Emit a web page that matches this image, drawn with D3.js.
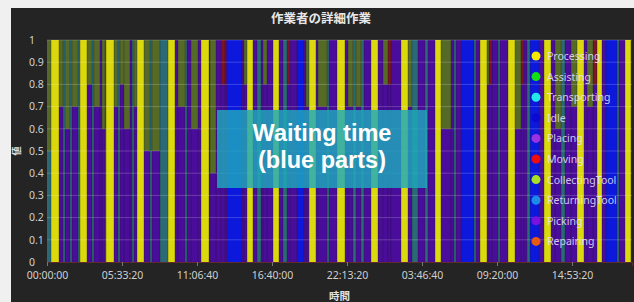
<!DOCTYPE html>
<html>
<head>
<meta charset="utf-8">
<script src="https://cdn.jsdelivr.net/npm/d3@7"></script>
<style>
  body { margin: 0; background: #f0f0f0; }
  svg { display: block; }
</style>
</head>
<body>
<svg width="634" height="302"></svg>
<script>
// legend order
const categories = ['Processing', 'Assisting', 'Transporting', 'Idle', 'Placing',
  'Moving', 'CollectingTool', 'ReturningTool', 'Picking', 'Repairing']

// short codes used in the segment arrays
const codes = { Y: 'Processing', B: 'Idle', P: 'Picking', T: 'ReturningTool', C: 'CollectingTool', R: 'Moving' }

const xTicks = [0, 20000, 40000, 60000, 80000, 100000, 120000, 140000]
const yTicks = [0, 0.1, 0.2, 0.3, 0.4, 0.5, 0.6, 0.7, 0.8, 0.9, 1]
const xMax = 156000

// segment start (seconds since 00:00:00)
const segStart = [
  0, 1070, 3200, 4270, 4800, 6130, 6670, 8270, 8800, 10670,
  12000, 12530, 14130, 14670, 15470, 15730, 17870, 18930, 19470, 20530,
  22130, 22670, 23200, 24000, 25870, 27470, 28000, 30130, 32270, 34130,
  34930, 36800, 37330, 38400, 40270, 41070, 43200, 43470, 45070, 46400,
  47470, 48000, 52000, 52530, 53330, 54930, 56000, 57070, 57600, 58670,
  60270, 61870, 62930, 64000, 64800, 66670, 68530, 69070, 69870, 71730,
  72270, 74670, 75200, 77330, 79470, 80270, 81600, 82400, 83730, 84530,
  86400, 88270, 89600, 90930, 91730, 94400, 96270, 97330, 98930, 100800,
  101600, 103470, 105070, 107730, 108530, 109070, 110400, 113870, 114400, 115470,
  117330, 117870, 118670, 120270, 120800, 122930, 124800, 126400, 127200, 128000,
  128800, 131200, 132530, 134400, 135470, 137070, 138130, 139730, 141330, 143200,
  144000, 145600, 146670, 148000, 149070, 152000, 152530, 154130, 155730
]

// main (bottom) activity of each segment
const segMain = [
  'T','Y','P','T','P','T','P','T','Y','P',
  'T','P','P','P','T','Y','P','T','P','P',
  'P','T','P','Y','P','T','P','T','Y','P',
  'P','T','P','P','P','Y','P','P','P','P',
  'P','B','P','P','Y','P','T','P','P','P',
  'Y','P','T','P','P','B','P','P','Y','P',
  'P','T','P','Y','P','P','T','P','T','P',
  'Y','P','P','P','P','Y','P','T','P','T',
  'P','Y','P','P','T','P','B','T','P','Y',
  'P','P','P','T','P','Y','P','P','P','T',
  'B','P','Y','P','P','T','P','P','Y','P',
  'P','P','Y','P','B','T','P','Y','P'
]

// share of the main activity
const segShare = [
  .5, 1, .7, 1, .6, 1, .7, 1, 1, .8,
  1, .7, 1, .6, 1, 1, .7, 1, .8, .6,
  1, 1, .7, 1, .5, 1, .5, 1, 1, 1,
  .7, 1, 1, .6, 1, 1, 1, .4, 1, .8,
  1, 1, 1, .8, 1, 1, 1, 1, .8, 1,
  1, 1, 1, .8, 1, 1, 1, .7, 1, 1,
  .7, 1, 1, 1, 1, .7, 1, .7, 1, 1,
  1, 1, .8, .8, 1, 1, .7, 1, 1, 1,
  1, 1, .6, 1, 1, 1, 1, 1, 1, 1,
  .8, .8, 1, 1, 1, 1, .6, .8, 1, 1,
  1, 1, 1, 1, .6, 1, 1, .7, 1, 1,
  .7, .8, 1, 1, 1, 1, 1, 1, 1
]

// activity filling the rest of the segment
const segTop = [
  'C','','C','','C','','C','','','C',
  '','C','','C','','','C','','C','C',
  '','','C','','C','','C','','','',
  'C','','','C','','','','C','','R',
  '','','','C','','','','','C','',
  '','','','R','','','','C','','',
  'C','','','','','C','','C','','',
  '','','C','R','','','C','','','',
  '','','C','','','','','','','',
  'C','R','','','','','C','R','','',
  '','','','','C','','','C','','',
  'C','R','','','','','','',''
]

const dotColor = {
  Processing: '#f2ea00', Assisting: '#12e012', Transporting: '#22e8e8', Idle: '#0a0ad2',
  Placing: '#9a32e2', Moving: '#ee0c0c', CollectingTool: '#a8e022', ReturningTool: '#1c8ce8',
  Picking: '#7a12e0', Repairing: '#e85a12'
}
const fillColor = {
  Processing: '#dcd80e', Assisting: '#1c8a1c', Transporting: '#1c8a8a', Idle: '#0c18dc',
  Placing: '#6a2aa0', Moving: '#7a1426', CollectingTool: '#566a28', ReturningTool: '#2a6a76',
  Picking: '#4a0c9a', Repairing: '#8a3a10'
}

const plotLeft = 47, plotRight = 632, plotTop = 40, plotBottom = 262

let svg = d3.select('svg')

svg.append('rect')
  .attr('x', 11).attr('y', 8)
  .attr('width', 623).attr('height', 294)
  .attr('fill', '#242424')

let x = d3.scaleLinear().domain([0, xMax]).range([plotLeft, plotRight])
let y = d3.scaleLinear().domain([0, 1]).range([plotBottom, plotTop])

let rows = segStart.map((s, i) => {
  let row = { start: s, end: i + 1 < segStart.length ? segStart[i + 1] : xMax }
  categories.forEach(c => { row[c] = 0 })
  row[codes[segMain[i]]] = segShare[i]
  if (segTop[i]) row[codes[segTop[i]]] = +(1 - segShare[i]).toFixed(2)
  return row
})

let stackKeys = ['ReturningTool', 'Picking', 'Processing', 'Idle', 'CollectingTool',
  'Moving', 'Assisting', 'Transporting', 'Placing', 'Repairing']
let series = d3.stack().keys(stackKeys)(rows)

let plot = svg.append('g').attr('id', 'CANVAS')

plot.selectAll('g')
  .data(series)
  .enter()
  .append('g')
  .attr('fill', s => fillColor[s.key])
  .selectAll('rect')
  .data(s => s.filter(d => d[1] > d[0]))
  .enter()
  .append('rect')
  .attr('x', d => x(d.data.start))
  .attr('width', d => x(d.data.end) - x(d.data.start))
  .attr('y', d => y(d[1]))
  .attr('height', d => y(d[0]) - y(d[1]))

// thin dark edges between columns
plot.selectAll('line.edge')
  .data(rows.slice(1))
  .enter()
  .append('line')
  .attr('class', 'edge')
  .attr('x1', d => x(d.start)).attr('x2', d => x(d.start))
  .attr('y1', plotTop).attr('y2', plotBottom)
  .attr('stroke', '#1c1c1c')
  .attr('stroke-width', 0.6)
  .attr('stroke-opacity', 0.55)

// horizontal grid
plot.selectAll('line.grid')
  .data(yTicks.slice(1))
  .enter()
  .append('line')
  .attr('class', 'grid')
  .attr('x1', plotLeft).attr('x2', plotRight)
  .attr('y1', d => y(d)).attr('y2', d => y(d))
  .attr('stroke', '#ffffff')
  .attr('stroke-opacity', 0.2)

const fmt = s => {
  s = s % 86400
  let h = Math.floor(s / 3600), m = Math.floor(s % 3600 / 60), sec = s % 60
  return [h, m, sec].map(v => String(v).padStart(2, '0')).join(':')
}

let xAxis = svg.append('g')
  .attr('transform', `translate(0, ${plotBottom})`)
  .call(d3.axisBottom(x).tickValues(xTicks).tickFormat(fmt).tickSize(4).tickPadding(6))
xAxis.select('.domain').attr('stroke', '#5e2c2c')
xAxis.selectAll('.tick line').attr('stroke', '#777')
xAxis.selectAll('text')
  .attr('fill', '#d0d0d0')
  .attr('font-family', "'Noto Sans', sans-serif")
  .attr('font-size', 10.5)

let yAxis = svg.append('g')
  .attr('transform', `translate(${plotLeft}, 0)`)
  .call(d3.axisLeft(y).tickValues(yTicks).tickFormat(d3.format('')).tickSize(0))
yAxis.select('.domain').remove()
yAxis.selectAll('text')
  .attr('x', -18)
  .attr('text-anchor', 'start')
  .attr('fill', '#d0d0d0')
  .attr('font-family', "'Noto Sans', sans-serif")
  .attr('font-size', 10.5)

svg.append('text')
  .text('作業者の詳細作業')
  .attr('x', 321).attr('y', 23)
  .attr('text-anchor', 'middle')
  .attr('font-family', "'Noto Sans CJK JP', sans-serif")
  .attr('font-weight', 'bold')
  .attr('font-size', 12.5)
  .attr('fill', '#e8e8e8')

svg.append('text')
  .text('時間')
  .attr('x', (plotLeft + plotRight) / 2).attr('y', 300)
  .attr('text-anchor', 'middle')
  .attr('font-family', "'Noto Sans CJK JP', sans-serif")
  .attr('font-weight', 'bold')
  .attr('font-size', 10.5)
  .attr('fill', '#e0e0e0')

svg.append('text')
  .text('値')
  .attr('transform', 'translate(20, 151) rotate(-90)')
  .attr('text-anchor', 'middle')
  .attr('font-family', "'Noto Sans CJK JP', sans-serif")
  .attr('font-weight', 'bold')
  .attr('font-size', 9)
  .attr('fill', '#e0e0e0')

// legend
let legend = svg.append('g')
  .selectAll('g')
  .data(categories)
  .enter()
  .append('g')
  .attr('transform', (d, i) => `translate(536, ${56 + i * 20.6})`)

legend.append('circle')
  .attr('r', 4.5)
  .attr('fill', d => dotColor[d])

legend.append('text')
  .text(d => d)
  .attr('x', 11).attr('y', 4)
  .attr('font-family', "'Noto Sans', sans-serif")
  .attr('font-size', 10.5)
  .attr('fill', '#e8e8ff')
  .attr('fill-opacity', 0.85)

// annotation box
svg.append('rect')
  .attr('x', 217).attr('y', 110)
  .attr('width', 210).attr('height', 78)
  .attr('fill', '#1eaabd')
  .attr('fill-opacity', 0.82)

svg.append('text')
  .attr('text-anchor', 'middle')
  .attr('font-family', "'Liberation Sans', Arial, sans-serif")
  .attr('font-weight', 'bold')
  .attr('font-size', 23.5)
  .attr('fill', '#ffffff')
  .selectAll('tspan')
  .data(['Waiting time', '(blue parts)'])
  .enter()
  .append('tspan')
  .attr('x', 322)
  .attr('y', (d, i) => 141 + i * 27)
  .text(d => d)
</script>
</body>
</html>
